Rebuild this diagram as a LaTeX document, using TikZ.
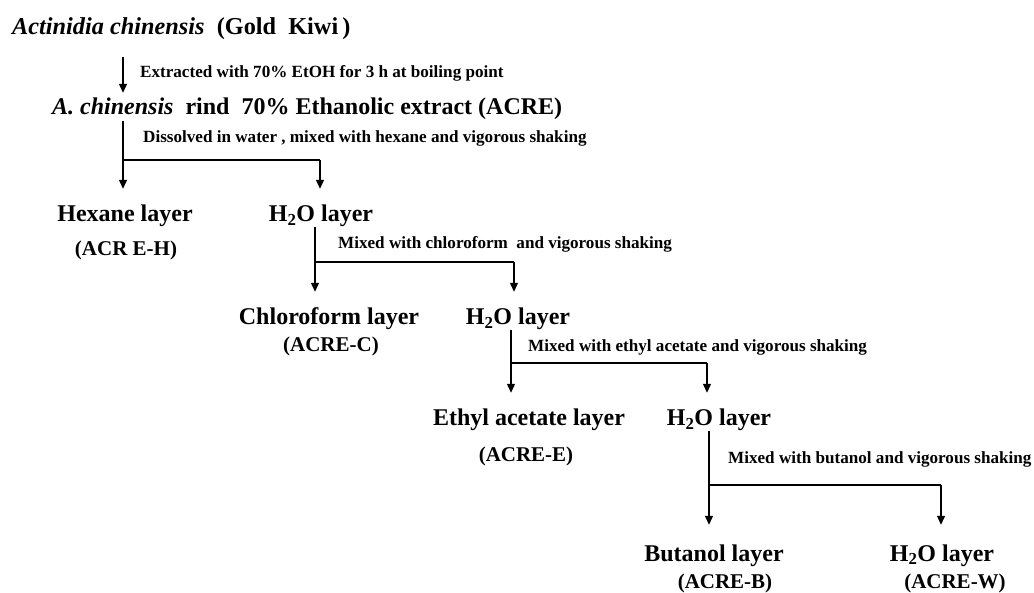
\documentclass[tikz,border=0pt]{standalone}
\usepackage{fontspec}
\setmainfont{Liberation Serif}
\usetikzlibrary{arrows.meta}

\tikzset{
  layer/.style={anchor=base, inner sep=0pt, text height=16pt, text depth=5pt,
                font=\bfseries\fontsize{24}{28}\selectfont},
  sample/.style={anchor=base, inner sep=0pt, font=\bfseries\fontsize{21}{24}\selectfont},
  howto/.style={anchor=base west, inner sep=0pt, font=\bfseries\fontsize{17.1}{20}\selectfont},
  stem/.style={line width=1.2pt},
  flow/.style={line width=1.2pt, -{Triangle[length=9pt,width=8pt]}, shorten >=17pt},
}

\begin{document}
\begin{tikzpicture}[x=1pt,y=-1pt]
\useasboundingbox (0,0) rectangle (1034,593);

% plant and crude extract
  \node[anchor=base west, inner sep=0pt, text depth=6pt, font=\bfseries\fontsize{24.3}{28}\selectfont]
       (kiwi) at (12,35) {\textit{Actinidia chinensis}\ \ (Gold\ \ Kiwi\,)};
  \node[anchor=base west, inner sep=0pt, text height=16pt, text depth=6pt, font=\bfseries\fontsize{24}{28}\selectfont]
       (acre) at (52,115) {\textit{A. chinensis}\ \ rind\ \ 70\% Ethanolic extract (ACRE)};
  \node[howto] (ext) at (140,78) {Extracted with 70\% EtOH for 3 h at boiling point};
  \coordinate (f0) at (123,0);
  \draw[flow, shorten >=6pt, shorten <=16pt] (kiwi.south -| f0) -- (acre.north -| f0);

% hexane partition
  \node[howto] (p1) at (143,143) {Dissolved in water , mixed with hexane and vigorous shaking};
  \coordinate (f1l) at (123,160);
  \coordinate (f1r) at (320,160);
  \node[layer] (hex) at (125,222) {Hexane layer};
  \node[sample] (hexs) at (126,256) {(ACR E-H)};
  \node[layer] (w1) at (321,222) {H\textsubscript{2}O layer};
  \draw[stem] (acre.south -| f1l) -- (f1l) -- (f1r);
  \draw[flow] (f1l) -- (f1l |- hex.north);
  \draw[flow] (f1r) -- (f1r |- w1.north);

% chloroform partition
  \node[howto] (p2) at (338,249) {Mixed with chloroform\ \ and vigorous shaking};
  \coordinate (f2l) at (315,262);
  \coordinate (f2r) at (514,262);
  \node[layer] (chl) at (329,325) {Chloroform layer};
  \node[sample] (chls) at (331,352) {(ACRE-C)};
  \node[layer] (w2) at (518,325) {H\textsubscript{2}O layer};
  \draw[stem] (w1.south -| f2l) -- (f2l) -- (f2r);
  \draw[flow] (f2l) -- (f2l |- chl.north);
  \draw[flow] (f2r) -- (f2r |- w2.north);

% ethyl acetate partition
  \node[howto] (p3) at (528,352) {Mixed with ethyl acetate and vigorous shaking};
  \coordinate (f3l) at (511,363);
  \coordinate (f3r) at (707,363);
  \node[layer] (eth) at (529,426) {Ethyl acetate layer};
  \node[sample] (eths) at (526,462) {(ACRE-E)};
  \node[layer] (w3) at (719,426) {H\textsubscript{2}O layer};
  \draw[stem] (w2.south -| f3l) -- (f3l) -- (f3r);
  \draw[flow] (f3l) -- (f3l |- eth.north);
  \draw[flow] (f3r) -- (f3r |- w3.north);

% butanol partition
  \node[howto] (p4) at (728,464) {Mixed with butanol and vigorous shaking};
  \coordinate (f4l) at (709,485);
  \coordinate (f4r) at (941,485);
  \node[layer] (but) at (714,561) {Butanol layer};
  \node[sample] (buts) at (725,588) {(ACRE-B)};
  \node[layer] (w4) at (942,561) {H\textsubscript{2}O layer};
  \node[sample] (w4s) at (955,588) {(ACRE-W)};
  \draw[stem] (w3.south -| f4l) -- (f4l) -- (f4r);
  \draw[flow, shorten >=20pt] (f4l) -- (f4l |- but.north);
  \draw[flow, shorten >=20pt] (f4r) -- (f4r |- w4.north);

\end{tikzpicture}
\end{document}
